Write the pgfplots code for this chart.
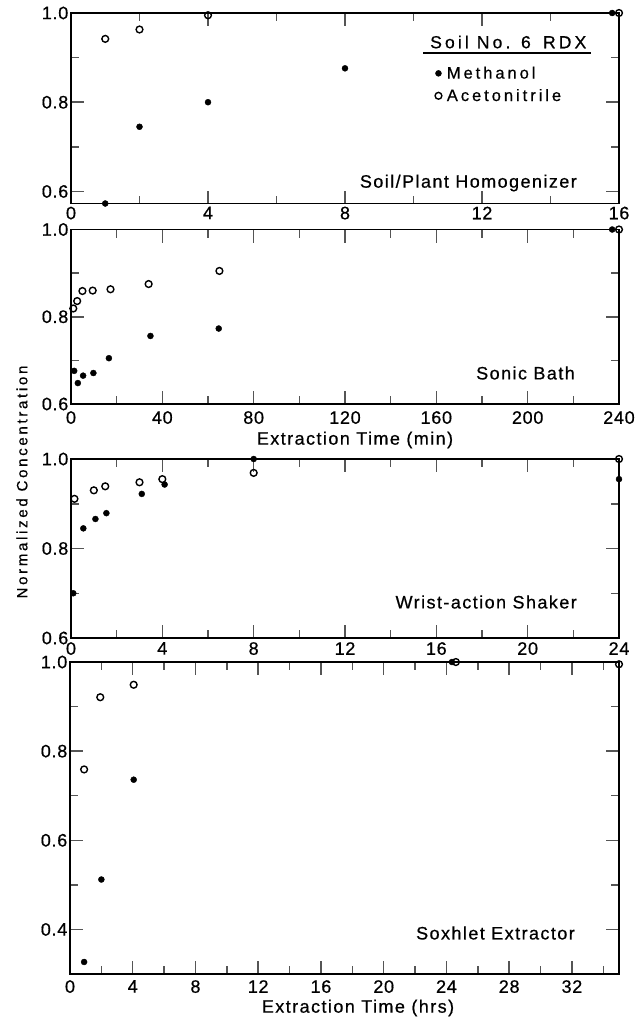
\documentclass[border=0pt]{standalone}
\usepackage{fontspec}
\setmainfont{Liberation Sans}
\newfontfamily\tickfam[LetterSpace=4,FakeBold=0.6]{Liberation Sans}
\newfontfamily\labfam[LetterSpace=8,FakeBold=0.6]{Liberation Sans}
\newfontfamily\legfam[LetterSpace=18,FakeBold=0.6]{Liberation Sans}
\newcommand\mytickfont{\tickfam\fontsize{18bp}{20bp}\selectfont}
\newcommand\mylabfont{\labfam\fontsize{18bp}{20bp}\selectfont}
\newcommand\mylegfont{\legfam\fontsize{16.5bp}{18bp}\selectfont}
\newcommand\mytitfont{\legfam\fontsize{17.5bp}{18bp}\selectfont}
\newcommand\myylabfont{\legfam\fontsize{15bp}{18bp}\selectfont}
\usepackage{pgfplots}
\pgfplotsset{compat=1.18}
\definecolor{tickc}{RGB}{85,85,85}
\pgfplotsset{
  panel/.style={
    scale only axis, width=548bp, anchor=south west,
    xmin=0, ymax=1,
    axis line style={line width=1.5bp},
    tick label style={font=\mytickfont},
    tick align=inside, major tick length=13bp, minor tick length=8bp,
    tick style={tickc, line width=1.5bp},
    yticklabel style={inner sep=2.5bp},
    clip=false,
  },
  meth/.style={only marks, mark=*, mark size=3bp, black},
  acet/.style={only marks, mark=o, mark size=3.4bp, black, mark options={line width=1.4bp}},
}
\begin{document}
\begin{tikzpicture}
\path[use as bounding box] (0,0) rectangle (638bp,-1024bp);
% Panel 1
\begin{axis}[panel, at={(71bp,-203.5bp)}, height=190.5bp, xmax=16, ymin=0.573,
  xtick={0,4,8,12,16}, xticklabels={0,4,8,12,16}, minor xtick={2,6,10,14},
  ytick={0.6,0.8,1.0}, yticklabels={0.6,0.8,1.0}, minor ytick={0.7,0.9},
  xticklabel style={inner sep=3bp},
  legend style={at={(axis description cs:0.664,0.73)}, anchor=north west, draw=none, fill=none,
    font=\mylegfont, row sep=5bp, column sep=3bp, inner sep=0pt, cells={anchor=west}},
  legend image code/.code={\draw[#1] plot coordinates {(0bp,0bp)};}]
\addplot[meth] coordinates {(1,0.573) (2,0.745) (4,0.800) (8,0.876) (15.8,1.0)};
\addlegendentry{Methanol}
\addplot[acet] coordinates {(1,0.942) (2,0.963) (4,0.995) (16,1.0)};
\addlegendentry{Acetonitrile}
\end{axis}
% Panel 2
\begin{axis}[panel, at={(71bp,-404bp)}, height=174.5bp, xmax=240, ymin=0.6,
  xtick={0,40,80,120,160,200,240}, xticklabels={0,40,80,120,160,200,240}, minor xtick={20,60,100,140,180,220},
  ytick={0.6,0.8,1.0}, yticklabels={0.6,0.8,1.0}, minor ytick={0.7,0.9},
  xticklabel style={inner sep=7bp}]
\addplot[meth] coordinates {(1.4,0.676) (3,0.648) (5.3,0.665) (9.8,0.671) (16.6,0.705) (34.8,0.756) (64.7,0.773) (237,1.0)};
\addplot[acet] coordinates {(1,0.819) (2.7,0.836) (5,0.859) (9.5,0.860) (17.3,0.863) (34,0.875) (65,0.905) (240,1.0)};
\end{axis}
% Panel 3
\begin{axis}[panel, at={(71bp,-638bp)}, height=179bp, xmax=24, ymin=0.6,
  xtick={0,4,8,12,16,20,24}, xticklabels={0,4,8,12,16,20,24}, minor xtick={2,6,10,14,18,22},
  ytick={0.6,0.8,1.0}, yticklabels={0.6,0.8,1.0}, minor ytick={0.7,0.9},
  xticklabel style={inner sep=4bp}]
\addplot[meth] coordinates {(0.1,0.70) (0.54,0.845) (1.07,0.866) (1.55,0.879) (3.1,0.922) (4.1,0.943) (8,1.0) (24,0.955)};
\addplot[acet] coordinates {(0.15,0.911) (1,0.930) (1.5,0.939) (3,0.948) (4,0.955) (8,0.969) (24,1.0)};
\end{axis}
% Panel 4
\begin{axis}[panel, at={(70bp,-974bp)}, width=549bp, height=312bp, xmax=35, ymin=0.3,
  xtick={0,4,8,12,16,20,24,28,32}, xticklabels={0,4,8,12,16,20,24,28,32}, minor xtick={2,6,10,14,18,22,26,30,34},
  ytick={0.4,0.6,0.8,1.0}, yticklabels={0.4,0.6,0.8,1.0}, minor ytick={0.5,0.7,0.9},
  xticklabel style={inner sep=6bp}]
\addplot[meth] coordinates {(0.9,0.327) (2,0.512) (4.06,0.736) (24.35,1.0)};
\addplot[acet] coordinates {(0.9,0.759) (1.93,0.921) (4.06,0.949) (24.6,1.0) (35,0.995)};
\end{axis}
% texts
\node[anchor=west, inner sep=0pt, font=\mytitfont] at (430bp,-42bp) {Soil No. 6\hspace{0.7em}RDX};
\draw[line width=1.4bp] (423bp,-53bp) -- (591bp,-53bp);
\node[anchor=east, inner sep=0pt, font=\mylabfont] at (577bp,-183bp) {Soil/Plant Homogenizer};
\node[anchor=east, inner sep=0pt, font=\mylabfont] at (575bp,-373bp) {Sonic Bath};
\node[anchor=east, inner sep=0pt, font=\mylabfont] at (577bp,-602bp) {Wrist-action Shaker};
\node[anchor=east, inner sep=0pt, font=\mylabfont] at (575bp,-933bp) {Soxhlet Extractor};
\node[rotate=90, inner sep=0pt, font=\myylabfont] at (22bp,-482bp) {Normalized Concentration};
\node[inner sep=0pt, font=\mylabfont] at (355bp,-440bp) {Extraction Time (min)};
\node[inner sep=0pt, font=\mylabfont] at (358bp,-1008bp) {Extraction Time (hrs)};
\end{tikzpicture}
\end{document}
